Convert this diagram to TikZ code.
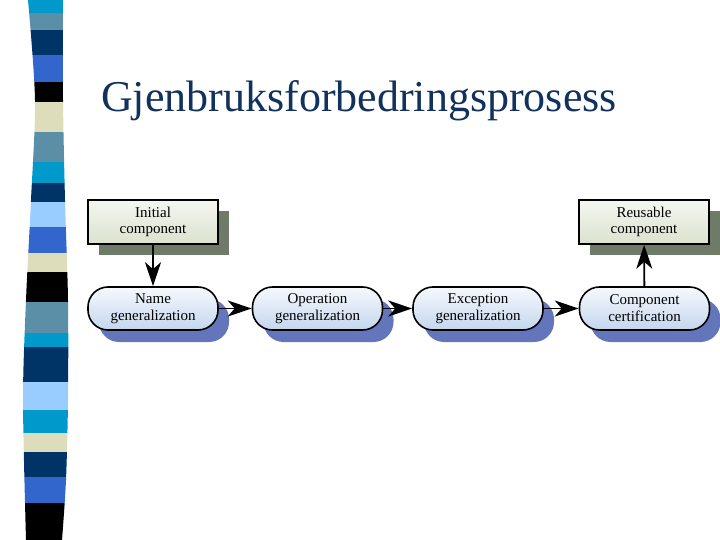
\documentclass[tikz,border=0pt]{standalone}
\usepackage{fontspec}
\setmainfont{Liberation Serif}
\usetikzlibrary{arrows.meta,shadows}
\definecolor{sCyan}{RGB}{0,153,204}
\definecolor{sSteel}{RGB}{91,143,168}
\definecolor{sNavy}{RGB}{0,51,102}
\definecolor{sRoyal}{RGB}{51,102,204}
\definecolor{sBeige}{RGB}{221,221,187}
\definecolor{sLight}{RGB}{153,204,255}
\definecolor{titleBlue}{RGB}{18,50,94}
\definecolor{boxTop}{RGB}{244,247,240}
\definecolor{boxBot}{RGB}{218,226,206}
\definecolor{boxShadow}{RGB}{112,122,104}
\definecolor{pillTop}{RGB}{246,249,253}
\definecolor{pillBot}{RGB}{196,214,238}
\definecolor{pillShadow}{RGB}{100,118,187}
\tikzset{
  boxnode/.style={draw=black, line width=1.6pt, top color=boxTop, bottom color=boxBot,
    minimum width=130pt, minimum height=44pt, inner sep=0pt, align=center,
    font=\fontsize{15}{16}\selectfont,
    general shadow={shadow xshift=11pt, shadow yshift=-11pt, fill=boxShadow, draw=none}},
  pillnode/.style={draw=black, line width=1.6pt, top color=pillTop, bottom color=pillBot,
    rounded corners=20pt, minimum width=130pt, minimum height=43pt, inner sep=0pt, align=center,
    font=\fontsize{15}{17}\selectfont,
    general shadow={shadow xshift=11pt, shadow yshift=-12pt, fill=pillShadow, draw=none}},
  flow/.style={line width=1.8pt, -{Stealth[length=24pt,width=16pt,inset=7pt]}},
}
\begin{document}
\begin{tikzpicture}[x=1pt,y=-1pt]
\useasboundingbox (0,0) rectangle (720,540);
% striped bar
\begin{scope}
\clip plot[smooth] coordinates {(28,0)(35,100)(31,200)(26,300)(23,400)(26,540)}
  -- plot[smooth] coordinates {(62,540)(66,480)(68,400)(68,300)(65,200)(63,100)(63,0)} -- cycle;
\fill[sCyan] (0,0) rectangle (80,13);
\fill[sSteel] (0,13) rectangle (80,30);
\fill[sNavy] (0,30) rectangle (80,55);
\fill[sRoyal] (0,55) rectangle (80,82);
\fill[black] (0,82) rectangle (80,102);
\fill[sBeige] (0,102) rectangle (80,132);
\fill[sSteel] (0,132) rectangle (80,162);
\fill[sCyan] (0,162) rectangle (80,183);
\fill[sNavy] (0,183) rectangle (80,202);
\fill[sLight] (0,202) rectangle (80,227);
\fill[sRoyal] (0,227) rectangle (80,253);
\fill[sBeige] (0,253) rectangle (80,272);
\fill[black] (0,272) rectangle (80,302);
\fill[sSteel] (0,302) rectangle (80,333);
\fill[sCyan] (0,333) rectangle (80,347);
\fill[sNavy] (0,347) rectangle (80,382);
\fill[sLight] (0,382) rectangle (80,410);
\fill[sCyan] (0,410) rectangle (80,433);
\fill[sBeige] (0,433) rectangle (80,452);
\fill[sNavy] (0,452) rectangle (80,477);
\fill[sRoyal] (0,477) rectangle (80,503);
\fill[black] (0,503) rectangle (80,540);
\end{scope}
% title
\node[anchor=base west, inner sep=0pt, text=titleBlue, font=\fontsize{44}{50}\selectfont] (title) at (101,112) {Gjenbruksforbedringsprosess};
% nodes
\node[boxnode] (init) at (153,222) {Initial\\component};
\node[boxnode] (reuse) at (644,222) {Reusable\\component};
\node[pillnode] (name) at (153,308.5) {Name\\generalization};
\node[pillnode] (oper) at (317.5,308.5) {Operation\\generalization};
\node[pillnode] (exc) at (478,308.5) {Exception\\generalization};
\node[pillnode] (cert) at (644.5,308.5) {Component\\certification};
% connectors
\draw[flow] (init) -- (name);
\draw[flow] (name) -- (oper);
\draw[flow] (oper) -- (exc);
\draw[flow] (exc) -- (cert);
\draw[flow] (cert) -- (reuse);
\end{tikzpicture}
\end{document}
